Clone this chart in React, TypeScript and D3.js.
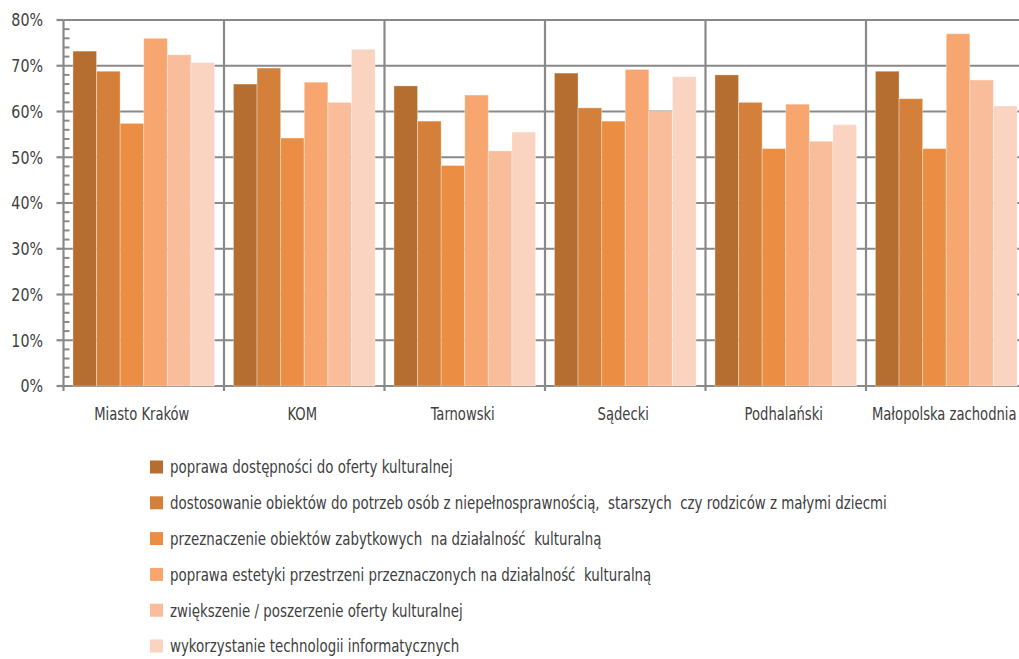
import React, { useEffect, useRef } from 'react';
import * as d3 from 'd3';

const regions = ['Miasto Kraków', 'KOM', 'Tarnowski', 'Sądecki', 'Podhalański', 'Małopolska zachodnia'];

const seriesNames = [
  'poprawa dostępności do oferty kulturalnej',
  'dostosowanie obiektów do potrzeb osób z niepełnosprawnością,  starszych  czy rodziców z małymi dziecmi',
  'przeznaczenie obiektów zabytkowych  na działalność  kulturalną',
  'poprawa estetyki przestrzeni przeznaczonych na działalność  kulturalną',
  'zwiększenie / poszerzenie oferty kulturalnej',
  'wykorzystanie technologii informatycznych',
];

const seriesColors = ['#b56e30', '#d4803a', '#eb8e43', '#f6a66e', '#f9bd9c', '#fad3c1'];

// values in %, one array per region, in series order
const miastoKrakow = [73.2, 68.8, 57.4, 76.0, 72.4, 70.7];
const kom = [66.0, 69.5, 54.2, 66.4, 62.0, 73.6];
const tarnowski = [65.6, 57.9, 48.2, 63.6, 51.4, 55.5];
const sadecki = [68.4, 60.8, 57.9, 69.2, 60.0, 67.6];
const podhalanski = [68.0, 62.0, 51.9, 61.6, 53.5, 57.1];
const malopolskaZach = [68.8, 62.8, 51.9, 77.0, 66.9, 61.2];

const values = [miastoKrakow, kom, tarnowski, sadecki, podhalanski, malopolskaZach];

const yTicks = [0, 10, 20, 30, 40, 50, 60, 70, 80];

const FONT = '"DejaVu Sans Condensed", "Liberation Sans", sans-serif';

const App = () => {
  const ref = useRef<SVGSVGElement>(null);

  useEffect(() => {
    if (!ref.current) return;
    const svg = d3.select(ref.current);
    svg.selectAll('*').remove();

    const width = 1019;
    const top = 20;
    const bottom = 386;
    const left = 63.5;
    const gridColor = '#898989';

    const y = d3.scaleLinear().domain([0, 80]).range([bottom, top]);
    const x0 = d3.scaleBand().domain(regions).range([left, 1026.5]).paddingInner(0).paddingOuter(0);
    const x1 = d3
      .scaleBand()
      .domain(seriesNames)
      .range([0, x0.bandwidth()])
      .paddingInner(0)
      .paddingOuter(0.4);

    const grid = svg.append('g');
    // horizontal gridlines
    grid
      .selectAll('line.h')
      .data(yTicks)
      .join('line')
      .attr('x1', left)
      .attr('x2', width)
      .attr('y1', (d) => y(d))
      .attr('y2', (d) => y(d))
      .attr('stroke', gridColor)
      .attr('stroke-width', 2.2);
    // vertical group separators
    grid
      .selectAll('line.v')
      .data(regions.slice(1))
      .join('line')
      .attr('x1', (d) => x0(d)!)
      .attr('x2', (d) => x0(d)!)
      .attr('y1', top)
      .attr('y2', bottom + 5)
      .attr('stroke', gridColor)
      .attr('stroke-width', 2.2);

    // bars
    const groups = svg
      .append('g')
      .selectAll('g')
      .data(regions)
      .join('g')
      .attr('transform', (d) => `translate(${x0(d)},0)`);

    groups
      .selectAll('rect')
      .data((d, i) => values[i].map((v, j) => ({ name: seriesNames[j], v, j })))
      .join('rect')
      .attr('x', (d) => x1(d.name)!)
      .attr('width', x1.bandwidth())
      .attr('y', (d) => y(d.v))
      .attr('height', (d) => y(0) - y(d.v))
      .attr('fill', (d) => seriesColors[d.j])
      .attr('stroke', '#ffffff')
      .attr('stroke-opacity', 0.35)
      .attr('stroke-width', 1);

    // left axis line
    svg
      .append('line')
      .attr('x1', left)
      .attr('x2', left)
      .attr('y1', top)
      .attr('y2', bottom + 5)
      .attr('stroke', gridColor)
      .attr('stroke-width', 2.2);

    // minor ticks every 2%
    svg
      .append('g')
      .selectAll('line')
      .data(d3.range(0, 81, 2).filter((d) => d % 10 !== 0))
      .join('line')
      .attr('x1', left)
      .attr('x2', left + 6)
      .attr('y1', (d) => y(d))
      .attr('y2', (d) => y(d))
      .attr('stroke', gridColor)
      .attr('stroke-width', 2);

    // major ticks
    svg
      .append('g')
      .selectAll('line')
      .data(yTicks)
      .join('line')
      .attr('x1', left - 7)
      .attr('x2', left)
      .attr('y1', (d) => y(d))
      .attr('y2', (d) => y(d))
      .attr('stroke', gridColor)
      .attr('stroke-width', 2.2);

    // y labels
    svg
      .append('g')
      .selectAll('text')
      .data(yTicks)
      .join('text')
      .attr('transform', (d) => `translate(43,${y(d)}) scale(0.88,1)`)
      .attr('dy', '0.36em')
      .attr('text-anchor', 'end')
      .attr('font-family', FONT)
      .attr('font-size', 18)
      .attr('fill', '#404040')
      .text((d) => `${d}%`);

    // x labels
    svg
      .append('g')
      .selectAll('text')
      .data(regions)
      .join('text')
      .attr('transform', (d) => `translate(${x0(d)! + x0.bandwidth() / 2 - 2},414) scale(0.86,1)`)
      .attr('dy', '0.36em')
      .attr('text-anchor', 'middle')
      .attr('font-family', FONT)
      .attr('font-size', 17)
      .attr('fill', '#404040')
      .text((d) => d);

    // legend
    const legendY = d3.scalePoint().domain(seriesNames).range([467, 646]);
    const legend = svg
      .append('g')
      .selectAll('g')
      .data(seriesNames)
      .join('g')
      .attr('transform', (d) => `translate(150,${legendY(d)})`);
    legend
      .append('rect')
      .attr('x', 0)
      .attr('y', -6.5)
      .attr('width', 13)
      .attr('height', 13)
      .attr('fill', (d, i) => seriesColors[i]);
    legend
      .append('text')
      .attr('transform', 'translate(20,0) scale(0.85,1)')
      .attr('dy', '0.36em')
      .attr('font-family', FONT)
      .attr('font-size', 17.5)
      .attr('fill', '#404040')
      .style('white-space', 'pre')
      .text((d) => d);
  }, []);

  return (
    <div>
      <style>{`body { margin: 0; background: #fff; }`}</style>
      <svg ref={ref} width={1019} height={659} style={{ display: 'block' }} />
    </div>
  );
};

export default App;
